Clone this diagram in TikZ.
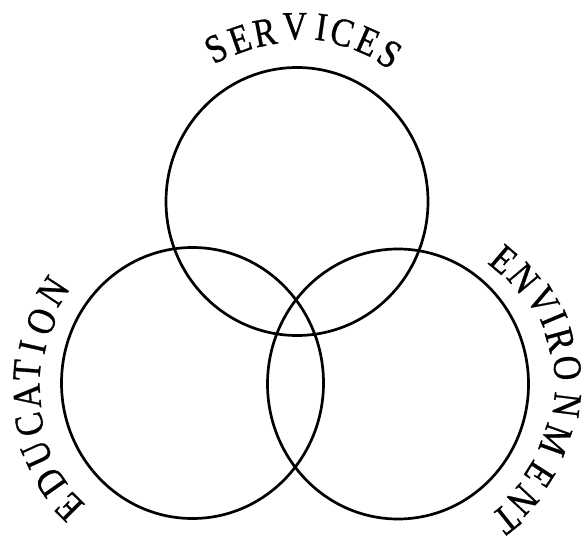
\documentclass[tikz,border=0pt]{standalone}
\usepackage{fontspec}
\setmainfont{Liberation Serif}
\newfontfamily\lblfont{Liberation Serif}[FakeBold=0.8]
\begin{document}
\begin{tikzpicture}[x=1pt,y=1pt,
  ring/.style={draw=black,line width=2.7pt},
  lbl/.style={font=\lblfont\fontsize{40}{44}\selectfont,inner sep=0pt,anchor=center}]
\useasboundingbox (0,0) rectangle (586,544);
\coordinate (ctop) at (297,342.5);
\coordinate (cleft) at (192.5,161);
\coordinate (cright) at (398,160);
\draw[ring] (ctop) ellipse [x radius=131, y radius=134];
\draw[ring] (cleft) ellipse [x radius=131, y radius=135.5];
\draw[ring] (cright) ellipse [x radius=130.5, y radius=135];
% SERVICES
\foreach \l/\a/\r [count=\i] in {S/117.9/173,E/109.4/172,R/100.8/172,V/90.7/175,I/82/176,C/75/175,E/66.2/175,S/57.9/174}
  \node[lbl,rotate=\a-90,xscale=0.85] (sv\i) at ([shift={(\a:\r pt)}]ctop) {\l};
% EDUCATION
\foreach \l/\a/\r [count=\i] in {E/225.1/175,D/215/173,U/204.6/171,C/194.3/168,A/184.6/166,T/175.6/166,I/167.3/164,O/157.8/163,N/146.6/167}
  \node[lbl,rotate=\a-90,xscale=0.85] (ed\i) at ([shift={(\a:\r pt)}]cleft) {\l};
% ENVIRONMENT
\foreach \l/\a/\r [count=\i] in {E/49.7/163,N/40.1/164,V/30/167,I/22.8/169,R/15.2/168,O/5.4/170,N/-7.1/170,M/-19.6/167,E/-32.6/168,N/-42.9/170,T/-51.4/173}
  \node[lbl,rotate=\a-90,xscale=0.85] (en\i) at ([shift={(\a:\r pt)}]cright) {\l};
\end{tikzpicture}
\end{document}
